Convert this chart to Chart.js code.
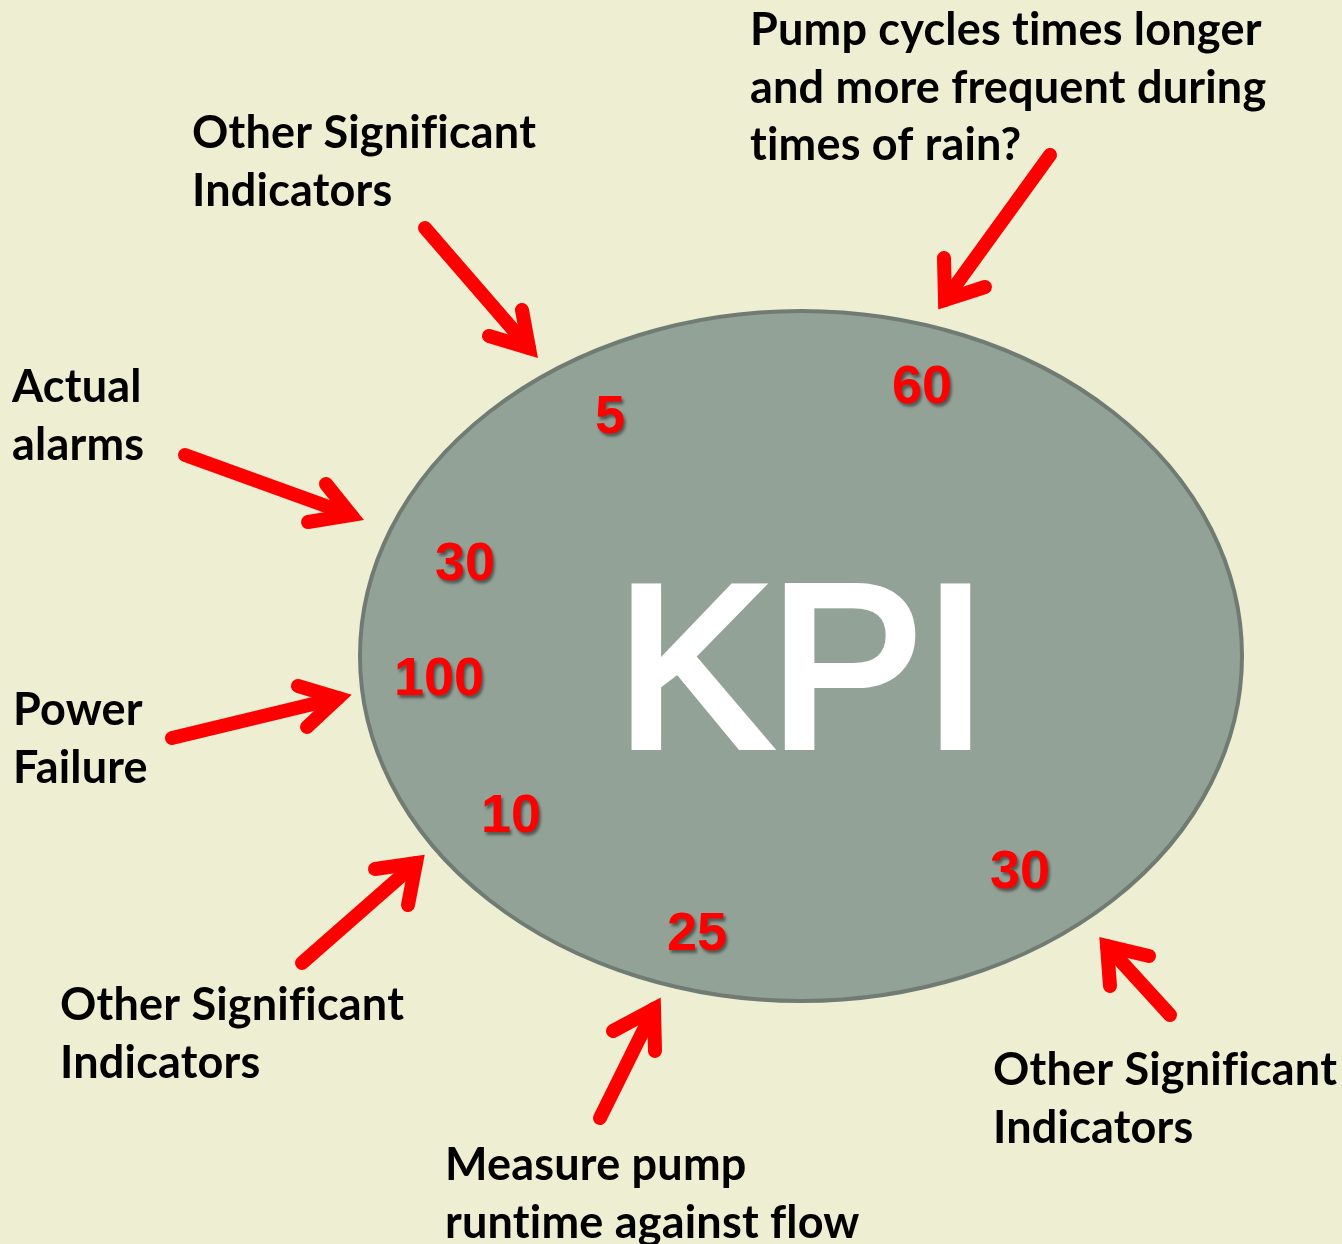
<!DOCTYPE html>
<html>
<head>
<meta charset="utf-8">
<script src="https://cdn.jsdelivr.net/npm/chart.js@4/dist/chart.umd.min.js"></script>
<style>
  html, body { margin: 0; padding: 0; background: #eeeed3; }
  canvas { display: block; }
</style>
</head>
<body>
<canvas id="kpi" width="1342" height="1244"></canvas>
<script>
// KPI numbers inside the ellipse
const kpiValues = [5, 60, 30, 100, 10, 25, 30];
const kpiX = [610, 922, 465, 439, 511, 697, 1020];
const kpiY = [418, 388, 565, 680, 817, 935, 873];

// indicator captions (lines) + anchor (left, first baseline)
const captions = [
  ['Other Significant', 'Indicators'],
  ['Pump cycles times longer', 'and more frequent during', 'times of rain?'],
  ['Actual', 'alarms'],
  ['Power', 'Failure'],
  ['Other Significant', 'Indicators'],
  ['Measure pump', 'runtime against flow'],
  ['Other Significant', 'Indicators']
];
const captionX = [192, 750, 12, 13, 60, 445, 993];
const captionY = [148, 45, 402, 725, 1020, 1180, 1085];

// arrows: tail -> tip, plus the two ends of the chevron head
const arrowTail = [[425, 228], [1050, 155], [185, 455], [172, 738], [302, 963], [600, 1118], [1170, 1015]];
const arrowTip = [[529, 348], [945, 300], [351, 515], [338, 698], [416, 863], [654, 1009], [1107, 946]];
const headA = [[489, 336], [944, 258], [308, 522], [298, 686], [375, 869], [613, 1031], [1110, 986]];
const headB = [[522, 310], [985, 287], [326, 484], [307, 727], [408, 905], [655, 1051], [1149, 956]];

// ellipse
const ellCenter = [801, 656];
const ellRadius = [441, 345];

const arrowSets = [];
arrowTail.forEach((t, i) => {
  const line = { data: [{ x: t[0], y: t[1] }, { x: arrowTip[i][0], y: arrowTip[i][1] }] };
  const head = { data: [{ x: headA[i][0], y: headA[i][1] }, { x: arrowTip[i][0], y: arrowTip[i][1] }, { x: headB[i][0], y: headB[i][1] }] };
  [line, head].forEach(d => arrowSets.push(Object.assign(d, {
    showLine: true,
    borderColor: '#ff0000',
    borderWidth: 14,
    borderCapStyle: 'round',
    borderJoinStyle: 'miter',
    pointRadius: 0,
    tension: 0
  })));
});

const ellipsePlugin = {
  id: 'ellipse',
  beforeDatasetsDraw(chart) {
    const { ctx, scales: { x, y } } = chart;
    const cx = x.getPixelForValue(ellCenter[0]);
    const cy = y.getPixelForValue(ellCenter[1]);
    const rx = Math.abs(x.getPixelForValue(ellCenter[0] + ellRadius[0]) - cx);
    const ry = Math.abs(y.getPixelForValue(ellCenter[1] + ellRadius[1]) - cy);
    ctx.save();
    ctx.beginPath();
    ctx.ellipse(cx, cy, rx, ry, 0, 0, Math.PI * 2);
    ctx.fillStyle = '#93a297';
    ctx.fill();
    ctx.lineWidth = 4;
    ctx.strokeStyle = '#707c73';
    ctx.stroke();
    // big label, thickened a little with a stroke
    ctx.fillStyle = '#ffffff';
    ctx.strokeStyle = '#ffffff';
    ctx.lineWidth = 8;
    ctx.lineJoin = 'miter';
    ctx.font = '230px "Liberation Sans", Arial, sans-serif';
    ctx.textAlign = 'center';
    ctx.textBaseline = 'alphabetic';
    const kx = x.getPixelForValue(802), ky = y.getPixelForValue(746);
    ctx.fillText('KPI', kx, ky);
    ctx.strokeText('KPI', kx, ky);
    ctx.restore();
  }
};

const textPlugin = {
  id: 'texts',
  afterDatasetsDraw(chart) {
    const { ctx, scales: { x, y } } = chart;
    ctx.save();
    ctx.fillStyle = '#000000';
    ctx.font = 'bold 45px Lato, "Open Sans", sans-serif';
    ctx.letterSpacing = '0.2px';
    ctx.textAlign = 'left';
    ctx.textBaseline = 'alphabetic';
    captions.forEach((lines, i) => {
      lines.forEach((s, j) => {
        ctx.fillText(s, x.getPixelForValue(captionX[i]), y.getPixelForValue(captionY[i] + j * 57.5));
      });
    });
    ctx.letterSpacing = '0px';
    // numbers
    const meta = chart.getDatasetMeta(chart.data.datasets.length - 1);
    ctx.font = 'bold 54px "Liberation Sans", Arial, sans-serif';
    ctx.textAlign = 'center';
    ctx.textBaseline = 'middle';
    ctx.fillStyle = '#ff0000';
    ctx.shadowColor = 'rgba(0,0,0,0.45)';
    ctx.shadowOffsetX = 2;
    ctx.shadowOffsetY = 3;
    ctx.shadowBlur = 3;
    meta.data.forEach((pt, i) => {
      ctx.fillText(String(kpiValues[i]), pt.x, pt.y);
    });
    ctx.restore();
  }
};

new Chart(document.getElementById('kpi'), {
  type: 'scatter',
  data: {
    datasets: arrowSets.concat([{
      label: 'KPI',
      data: kpiValues.map((v, i) => ({ x: kpiX[i], y: kpiY[i] })),
      pointRadius: 0
    }])
  },
  options: {
    responsive: false,
    animation: false,
    layout: { padding: 0 },
    plugins: { legend: { display: false }, tooltip: { enabled: false } },
    scales: {
      x: { type: 'linear', min: 0, max: 1342, display: false },
      y: { type: 'linear', min: 0, max: 1244, reverse: true, display: false }
    }
  },
  plugins: [ellipsePlugin, textPlugin]
});
</script>
</body>
</html>
